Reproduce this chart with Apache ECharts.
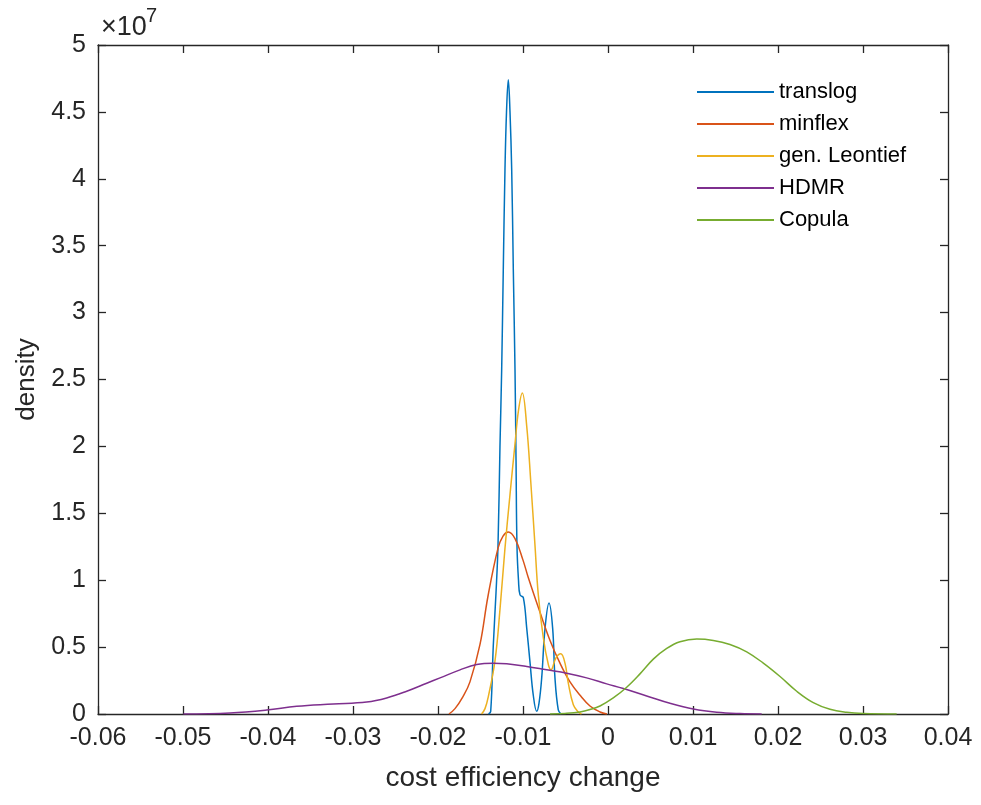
<!DOCTYPE html>
<html>
<head>
<meta charset="utf-8">
<script src="https://cdn.jsdelivr.net/npm/echarts@6/dist/echarts.min.js"></script>
<style>
  html, body { margin: 0; padding: 0; background: #fff; }
  #main { width: 981px; height: 805px; }
</style>
</head>
<body>
<div id="main"></div>
<script>
// density curves (y in units of 1e7)
const translogX = [-0.01406, -0.01380, -0.01349, -0.01318, -0.01294, -0.01271, -0.01251, -0.01232, -0.01212, -0.01194,
  -0.01173, -0.01153, -0.01133, -0.01114, -0.01094, -0.01082, -0.01071, -0.01053, -0.01035, -0.00996,
  -0.00956, -0.00918, -0.00879, -0.00839, -0.00812, -0.00780, -0.00741, -0.00694, -0.00651, -0.00624,
  -0.00585, -0.00553]
const translogY = [0, 0.02, 0.52, 0.9, 1.26, 2.0, 2.57, 3.32, 4.07, 4.5,
  4.74, 4.5, 4.07, 3.32, 2.57, 1.9, 1.26, 1.0, 0.89, 0.87,
  0.64, 0.39, 0.14, 0.02, 0.08, 0.27, 0.64, 0.83, 0.64, 0.27,
  0.03, 0]

const minflexX = [-0.01871, -0.01800, -0.01706, -0.01624, -0.01506, -0.01412, -0.01294, -0.01235, -0.01173, -0.01094,
  -0.01000, -0.00938, -0.00800, -0.00682, -0.00565, -0.00447, -0.00329, -0.00212, -0.00094, -0.00012]
const minflexY = [0, 0.04, 0.13, 0.24, 0.52, 0.88, 1.24, 1.33, 1.36, 1.31,
  1.15, 1.02, 0.76, 0.55, 0.38, 0.24, 0.14, 0.06, 0.015, 0]

const leontiefX = [-0.01488, -0.01447, -0.01408, -0.01329, -0.01271, -0.01212, -0.01153, -0.01094, -0.01053, -0.01008,
  -0.00956, -0.00909, -0.00859, -0.00820, -0.00761, -0.00702, -0.00671, -0.00612, -0.00556, -0.00506,
  -0.00467, -0.00408, -0.00349, -0.00312]
const leontiefY = [0, 0.04, 0.13, 0.4, 0.78, 1.24, 1.64, 2.02, 2.27, 2.40,
  2.15, 1.74, 1.26, 0.89, 0.57, 0.37, 0.33, 0.42, 0.45, 0.38,
  0.23, 0.07, 0.015, 0]

const hdmrX = [-0.04996, -0.04447, -0.04015, -0.03662, -0.03232, -0.02839, -0.02604, -0.02368, -0.02133, -0.01976,
  -0.01741, -0.01545, -0.01349, -0.01192, -0.00956, -0.00721, -0.00486, -0.00251, -0.00015, 0.00180,
  0.00455, 0.00729, 0.01004, 0.01279, 0.01553, 0.01808]
const hdmrY = [0, 0.008, 0.03, 0.058, 0.075, 0.09, 0.12, 0.17, 0.23, 0.27,
  0.33, 0.37, 0.38, 0.375, 0.355, 0.33, 0.305, 0.27, 0.225, 0.19,
  0.135, 0.08, 0.037, 0.013, 0.003, 0]

const copulaX = [-0.00682, -0.00506, -0.00329, -0.00212, -0.00094, 0.00062, 0.00220, 0.00376, 0.00533, 0.00691,
  0.00847, 0.01044, 0.01239, 0.01435, 0.01632, 0.01827, 0.02024, 0.02220, 0.02415, 0.02612,
  0.02808, 0.03004, 0.03396]
const copulaY = [0, 0.004, 0.015, 0.033, 0.06, 0.12, 0.2, 0.3, 0.41, 0.49,
  0.54, 0.56, 0.55, 0.52, 0.465, 0.38, 0.28, 0.17, 0.085, 0.035,
  0.013, 0.004, 0]

const names = ['translog', 'minflex', 'gen. Leontief', 'HDMR', 'Copula']
const colors = ['#0072BD', '#D95319', '#EDB120', '#7E2F8E', '#77AC30']

const xMin = -0.06, xMax = 0.04, xStep = 0.01
const yMin = 0, yMax = 5, yStep = 0.5

const font = "'Liberation Sans', Arial, sans-serif"
const ink = '#262626'

function pairs(xs, ys) {
  return xs.map((x, i) => [x, ys[i]])
}

let curves = [
  pairs(translogX, translogY),
  pairs(minflexX, minflexY),
  pairs(leontiefX, leontiefY),
  pairs(hdmrX, hdmrY),
  pairs(copulaX, copulaY)
]

var myChart = echarts.init(document.getElementById('main'))

// box style axis, ticks pointing inward like matlab
function boxAxis() {
  return {
    axisLine: { show: true, onZero: false, lineStyle: { color: ink, width: 1.3 } },
    axisTick: { show: true, inside: true, length: 8, lineStyle: { color: ink, width: 1.3 } },
    splitLine: { show: false }
  }
}

let option = {
  animation: false,
  backgroundColor: '#fff',
  grid: { left: 98, top: 45, width: 850, height: 669 },
  legend: {
    orient: 'vertical',
    left: 697,
    top: 81,
    padding: 0,
    icon: 'rect',
    itemWidth: 77,
    itemHeight: 2,
    itemGap: 10,
    data: names,
    textStyle: { fontFamily: font, fontSize: 22, color: '#000', lineHeight: 22 }
  },
  xAxis: [
    Object.assign({
      type: 'value', min: xMin, max: xMax, interval: xStep,
      name: 'cost efficiency change', nameLocation: 'middle', nameGap: 50,
      nameTextStyle: { fontFamily: font, fontSize: 28, color: ink },
      axisLabel: { fontFamily: font, fontSize: 25, color: ink, margin: 12 }
    }, boxAxis()),
    Object.assign({
      type: 'value', position: 'top', min: xMin, max: xMax, interval: xStep,
      axisLabel: { show: false }
    }, boxAxis())
  ],
  yAxis: [
    Object.assign({
      type: 'value', min: yMin, max: yMax, interval: yStep,
      name: 'density', nameLocation: 'middle', nameGap: 58,
      nameTextStyle: { fontFamily: font, fontSize: 26, color: ink },
      axisLabel: { fontFamily: font, fontSize: 25, color: ink, margin: 12 }
    }, boxAxis()),
    Object.assign({
      type: 'value', position: 'right', min: yMin, max: yMax, interval: yStep,
      axisLabel: { show: false }
    }, boxAxis())
  ],
  graphic: [
    {
      type: 'text', left: 101, top: 14,
      style: { text: '×10', fontFamily: font, fontSize: 27, fill: ink }
    },
    {
      type: 'text', left: 146, top: 6,
      style: { text: '7', fontFamily: font, fontSize: 20, fill: ink }
    }
  ],
  series: curves.map((d, i) => ({
    name: names[i],
    type: 'line',
    data: d,
    smooth: 0.4,
    symbol: 'none',
    lineStyle: { color: colors[i], width: 1.5 },
    itemStyle: { color: colors[i] }
  }))
}

myChart.setOption(option)
</script>
</body>
</html>
